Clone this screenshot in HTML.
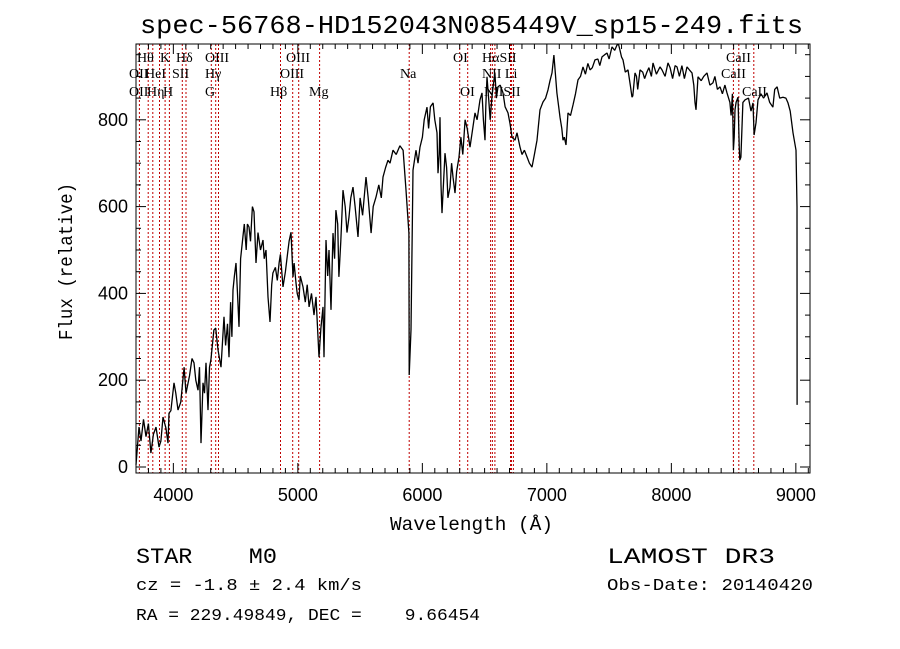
<!DOCTYPE html>
<html><head><meta charset="utf-8"><style>
html,body{margin:0;padding:0;background:#fff;}
svg{display:block;}
text{white-space:pre;}
</style></head><body>
<svg id="chart" width="900" height="649" viewBox="0 0 900 649" xmlns="http://www.w3.org/2000/svg" xml:space="preserve" style="font-family:'Liberation Mono',monospace">
<rect width="900" height="649" fill="#fff"/>
<text x="140" y="33" font-size="26" textLength="663" lengthAdjust="spacingAndGlyphs">spec-56768-HD152043N085449V_sp15-249.fits</text>
<g id="lines"></g>
<g id="linelabels" font-family="'Liberation Serif',serif" font-size="14">
<text x="137" y="62">Hθ</text>
<text x="160" y="62">K</text>
<text x="176" y="62">Hδ</text>
<text x="205" y="62">OIII</text>
<text x="286" y="62">OIII</text>
<text x="453" y="62">OI</text>
<text x="482" y="62">HαSII</text>
<text x="726" y="62">CaII</text>
<text x="129" y="78">OII</text>
<text x="145" y="78">HeI</text>
<text x="172" y="78">SII</text>
<text x="205" y="78">Hγ</text>
<text x="280" y="78">OIII</text>
<text x="400" y="78">Na</text>
<text x="482" y="78">NII Li</text>
<text x="721" y="78">CaII</text>
<text x="129" y="96">OII</text>
<text x="147" y="96">Hη</text>
<text x="163" y="96">H</text>
<text x="205" y="96">G</text>
<text x="270" y="96">Hβ</text>
<text x="309" y="96">Mg</text>
<text x="460" y="96">OI</text>
<text x="484" y="96">NIISII</text>
<text x="742" y="96">CaII</text>
</g>
<g id="ticks"></g>
<path id="spec" fill="none" stroke="#000" stroke-width="1.3" stroke-linejoin="bevel"/>
<rect x="136" y="44" width="674" height="429" fill="none" stroke="#000" stroke-width="1"/>
<g id="ticklabels" font-family="'Liberation Sans',sans-serif" font-size="18"></g>
<text x="390" y="530" font-size="19" textLength="163" lengthAdjust="spacingAndGlyphs">Wavelength (Å)</text>
<text transform="translate(72,340) rotate(-90)" font-size="19" textLength="157" lengthAdjust="spacingAndGlyphs">Flux (relative)</text>
<text x="136" y="563" font-size="22" textLength="141" lengthAdjust="spacingAndGlyphs">STAR    M0</text>
<text x="607" y="563" font-size="22" textLength="168" lengthAdjust="spacingAndGlyphs">LAMOST DR3</text>
<text x="136" y="590" font-size="17" textLength="226" lengthAdjust="spacingAndGlyphs">cz = -1.8 ± 2.4 km/s</text>
<text x="607" y="590" font-size="17" textLength="206" lengthAdjust="spacingAndGlyphs">Obs-Date: 20140420</text>
<text x="136" y="620" font-size="17" textLength="344" lengthAdjust="spacingAndGlyphs">RA = 229.49849, DEC =    9.66454</text>
</svg>
<script>
const wavelengths = [3700,3724,3820,3861,3885,3917,3957,3965,4005,4037,4086,4102,4166,4198,4222,4238,4262,4278,4302,4326,4359,4383,4407,4447,4479,4503,4527,4559,4608,4648,4664,4720,4744,4760,4776,4800,4849,4881,4921,4945,4961,4985,5009,5041,5090,5146,5170,5202,5210,5226,5266,5282,5306,5330,5363,5411,5443,5483,5547,5588,5628,5684,5724,5764,5845,5869,5892,5894,5909,5925,5949,5981,6037,6086,6118,6126,6142,6158,6182,6222,6246,6262,6294,6343,6383,6423,6463,6479,6503,6519,6559,6583,6608,6648,6688,6720,6744,6784,6841,6881,6921,6945,6969,7009,7041,7057,7081,7106,7130,7154,7170,7210,7250,7290,7347,7387,7443,7483,7523,7563,7587,7612,7652,7684,7708,7748,7804,7853,7909,7973,8045,8126,8166,8198,8214,8286,8334,8391,8447,8498,8511,8535,8559,8592,8656,8680,8696,8768,8816,8849,8897,8937,8977,9001,9009,9010,
3740,3760,3780,3800,3840,3900,3940,3980,4020,4060,4130,4150,4180,4210,4250,4290,4340,4420,4435,
4460,4470,4490,4515,4540,4570,4585,4595,4620,4635,4680,4700,4730,4790,4820,4835,4860,4900,4930,4970,4995,5020,5060,5075,5110,5130,5185,5240,5250,5295,5320,5345,5380,5395,5425,5460,5500,5520,5565,5605,5650,5670,5705,5740,5790,5820,
5965,6000,6015,6050,6065,6100,6135,6150,6195,6205,6235,6275,6310,6325,6360,6400,6440,6490,6510,6530,6545,6570,6595,6625,6665,6705,
6760,6800,6820,6860,6900,6990,7025,7095,7120,7140,7190,7230,7270,7310,7330,7365,7410,7425,7465,7500,7545,7575,7600,7630,7670,7690,7720,7730,7770,7785,7820,7840,7880,7925,7950,7990,8010,8030,8065,8085,8105,8145,8180,8190,8240,8260,8310,8350,8370,8410,8430,8470,8480,8490,8505,8520,8545,8550,8575,8620,8640,8665,8720,8740,8790,8830,8870,8920,8955];
const fluxes = [5,92,32,92,46,115,55,124,194,131,230,170,240,177,55,194,240,131,247,316,270,230,346,253,408,470,323,530,553,588,470,523,500,392,334,447,470,415,500,541,438,424,385,415,369,392,253,369,253,523,362,539,592,438,638,576,645,530,668,539,622,668,707,730,730,638,539,212,316,684,730,737,829,839,770,677,806,585,723,645,668,631,714,800,737,816,846,862,753,899,852,908,876,862,816,760,753,737,714,691,753,823,841,869,908,949,862,806,753,742,816,834,892,922,915,938,945,954,968,972,961,938,915,852,908,915,910,931,922,931,922,922,908,823,899,908,885,876,862,730,823,852,714,846,839,793,846,862,829,876,852,839,770,730,599,143,
60,110,70,100,75,60,90,130,170,150,210,250,200,230,170,230,320,280,330,
380,300,440,400,480,560,500,560,520,600,540,500,480,420,460,430,490,450,520,470,400,440,380,420,400,350,320,440,500,480,560,520,600,540,620,600,620,580,620,600,650,620,690,700,720,740,
700,760,800,780,830,800,720,650,690,620,700,680,760,720,780,770,800,800,830,860,800,880,850,880,830,790,
770,720,730,700,720,850,890,830,780,760,810,860,900,905,930,920,940,925,950,940,960,975,945,910,880,855,900,870,910,895,920,900,905,915,900,920,895,925,900,925,895,915,880,840,890,900,880,900,870,860,880,840,810,860,760,840,740,707,840,850,820,765,860,850,840,870,850,850,820];
const lineWavelengths = [3727,3798,3835,3889,3934,3968,4072,4102,4305,4340,4363,4861,4959,5007,5175,5894,6300,6364,6548,6563,6583,6708,6716,6731,8498,8542,8662];
const xTicks = [4000,5000,6000,7000,8000,9000];
const yTicks = [0,200,400,600,800];
const X0=136,X1=810,Y0=473,Y1=44;
function xs(w){return 136+(w-3700)*0.1245;}
function ys(f){return 467-f*0.434;}
const NS='http://www.w3.org/2000/svg';
const order=wavelengths.map((w,i)=>i).sort((a,b)=>wavelengths[a]-wavelengths[b]);
let d='';
order.forEach((i,k)=>{d+=(k?'L':'M')+xs(wavelengths[i]).toFixed(1)+','+ys(fluxes[i]).toFixed(1);});
document.getElementById('spec').setAttribute('d',d);
const lg=document.getElementById('lines');
lineWavelengths.forEach(w=>{
  const l=document.createElementNS(NS,'line');
  const x=xs(w).toFixed(1);
  l.setAttribute('x1',x);l.setAttribute('x2',x);l.setAttribute('y1',Y1);l.setAttribute('y2',Y0);
  l.setAttribute('stroke','#c00000');l.setAttribute('stroke-width','1');l.setAttribute('stroke-dasharray','2,2');
  
  
  lg.appendChild(l);
});
const tg=document.getElementById('ticks');
function tick(x1,y1,x2,y2){
  const l=document.createElementNS(NS,'line');
  l.setAttribute('x1',x1);l.setAttribute('y1',y1);l.setAttribute('x2',x2);l.setAttribute('y2',y2);
  l.setAttribute('stroke','#000');l.setAttribute('stroke-width','1');
  
  
  tg.appendChild(l);
}
for(let w=3700;w<=9100;w+=100){
  const x=xs(w); if(x<X0||x>X1)continue;
  const major=w%1000===0; const len=major?10:5;
  tick(x,Y0,x,Y0-len); tick(x,Y1,x,Y1+len);
}
for(let f=0;f<=950;f+=50){
  const y=ys(f); if(y<Y1)continue;
  const major=f%200===0; const len=major?10:5;
  tick(X0,y,X0+len,y); tick(X1,y,X1-len,y);
}
const lab=document.getElementById('ticklabels');
xTicks.forEach(w=>{
  const t=document.createElementNS(NS,'text');
  t.setAttribute('x',xs(w));t.setAttribute('y',501);t.setAttribute('text-anchor','middle');
  t.textContent=w;
  
  
  lab.appendChild(t);
});
yTicks.forEach(f=>{
  const t=document.createElementNS(NS,'text');
  t.setAttribute('x',128);t.setAttribute('y',ys(f)+6);t.setAttribute('text-anchor','end');
  t.textContent=f;
  
  
  lab.appendChild(t);
});
</script>
</body></html>
